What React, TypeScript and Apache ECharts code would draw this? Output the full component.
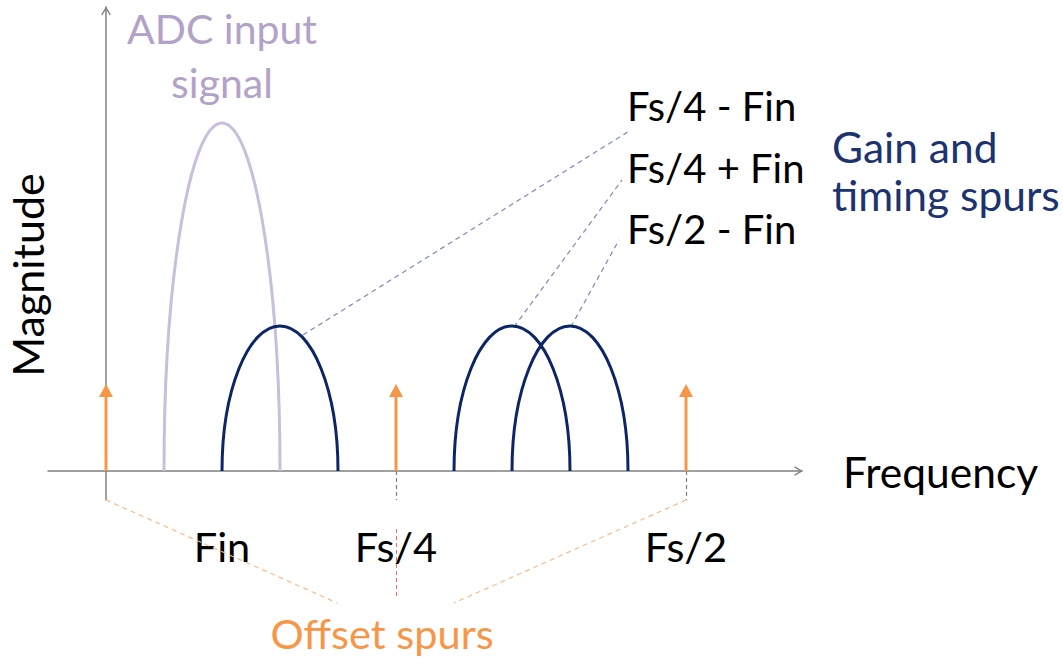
import React, { useEffect, useRef } from "react";
import * as echarts from "echarts";

// ---- data (units: frequency steps, magnitude steps) ----
const signalHumps = [[4, 2, 12]]; // [centre, half width, height]
const spurHumps = [
  [6, 2, 5],
  [14, 2, 5],
  [16, 2, 5],
];
const offsetSpurs = [
  [0, 3],
  [10, 3],
  [20, 3],
];
const tickValues = [4, 10, 20];
const tickLabels = ["Fin", "Fs/4", "Fs/2"];
const spurLabels = ["Fs/4 - Fin", "Fs/4 + Fin", "Fs/2 - Fin"];
const leaderLines = [
  [[6.79, 4.69], [18.1, 11.76]],
  [[14.07, 4.97], [17.79, 10.03]],
  [[16.03, 4.97], [17.69, 7.97]],
];
const offsetLeaders = [
  [[0, -1], [7.97, -4.55]],
  [[20, -1], [12, -4.55]],
];
const guideLines = [
  [[10, 0], [10, -1]],
  [[20, 0], [20, -1]],
];
const redGuide = [[[10, -2], [10, -4.4]]];

const FONT = "Lato, 'Open Sans', sans-serif";
const LAVENDER = "#C9BEDC";
const NAVY = "#0B2566";
const ORANGE = "#F79646";
const AXIS = "#808080";

function humpRender(color: string) {
  return (params: any, api: any) => {
    const c = api.value(0);
    const hw = api.value(1);
    const h = api.value(2);
    const pL = api.coord([c - hw, 0]);
    const pR = api.coord([c + hw, 0]);
    const pT = api.coord([c, h]);
    const rx = (pR[0] - pL[0]) / 2;
    const ry = pL[1] - pT[1];
    const k = 0.5523;
    const d =
      `M${pL[0]} ${pL[1]} C${pL[0]} ${pL[1] - k * ry} ${pT[0] - k * rx} ${pT[1]} ${pT[0]} ${pT[1]} ` +
      `C${pT[0] + k * rx} ${pT[1]} ${pR[0]} ${pR[1] - k * ry} ${pR[0]} ${pR[1]}`;
    return {
      type: "path",
      shape: { pathData: d },
      style: { fill: "none", stroke: color, lineWidth: 3 },
    };
  };
}

function arrowRender(params: any, api: any) {
  const x = api.value(0);
  const h = api.value(1);
  const p0 = api.coord([x, 0]);
  const p1 = api.coord([x, h]);
  const headLen = 13;
  const headHalf = 7;
  return {
    type: "group",
    children: [
      {
        type: "line",
        shape: { x1: p0[0], y1: p0[1], x2: p1[0], y2: p1[1] + headLen - 1 },
        style: { stroke: ORANGE, lineWidth: 3 },
      },
      {
        type: "polygon",
        shape: {
          points: [
            [p1[0], p1[1]],
            [p1[0] + headHalf, p1[1] + headLen],
            [p1[0] - headHalf, p1[1] + headLen],
          ],
        },
        style: { fill: ORANGE },
      },
    ],
  };
}

function txt(text: string, x: number, baseline: number, size: number, color: string, align: string) {
  return {
    type: "text",
    x,
    y: baseline - 0.36 * size,
    style: {
      text,
      fill: color,
      font: `${size}px ${FONT}`,
      fontFamily: FONT,
      fontSize: size,
      align,
      verticalAlign: "middle",
    },
  };
}

const chevron = "path://M50,0 L100,85 L90,95 L50,30 L10,95 L0,85 Z";

export default function App() {
  const ref = useRef<HTMLDivElement>(null);
  useEffect(() => {
    if (!ref.current) return;
    const chart = echarts.init(ref.current, undefined, { renderer: "svg" });
    const S = 42.5;
    const MAG = 43;
    chart.setOption({
      animation: false,
      backgroundColor: "#ffffff",
      grid: {
        left: 48,
        top: 7,
        width: 754,
        height: 493,
        containLabel: false,
        outerBoundsMode: "none",
      },
      xAxis: {
        type: "value",
        min: -2,
        max: 24,
        name: "Frequency",
        nameLocation: "end",
        nameGap: 41,
        nameTextStyle: { fontFamily: FONT, fontSize: S, color: "#000", verticalAlign: "middle", align: "left" },
        axisLine: {
          onZero: true,
          lineStyle: { color: AXIS, width: 1.5 },
          symbol: ["none", chevron],
          symbolSize: [10, 9],
          symbolOffset: [0, -3.5],
        },
        axisTick: { show: false },
        splitLine: { show: false },
        axisLabel: {
          customValues: tickValues,
          formatter: (v: number) => {
            const i = tickValues.indexOf(v);
            return i >= 0 ? tickLabels[i] : "";
          },
          fontFamily: FONT,
          fontSize: 41.5,
          color: "#000",
          margin: 46,
          verticalAlign: "middle",
        },
      },
      yAxis: {
        type: "value",
        min: -1,
        max: 16,
        axisLine: {
          onZero: true,
          lineStyle: { color: AXIS, width: 1.5 },
          symbol: ["none", chevron],
          symbolSize: [10, 9],
          symbolOffset: [0, -4],
        },
        axisTick: { show: false },
        splitLine: { show: false },
        axisLabel: { show: false },
      },
      series: [
        {
          type: "lines",
          coordinateSystem: "cartesian2d",
          clip: false,
          silent: true,
          data: offsetLeaders.map((c) => ({ coords: c })),
          lineStyle: { color: "#F9BC8E", width: 1.2, type: [5, 4], opacity: 1 },
        },
        {
          type: "lines",
          coordinateSystem: "cartesian2d",
          clip: false,
          silent: true,
          data: guideLines.map((c) => ({ coords: c })),
          lineStyle: { color: "#7F7F7F", width: 1.2, type: [4, 3], opacity: 1 },
        },
        {
          type: "lines",
          coordinateSystem: "cartesian2d",
          clip: false,
          silent: true,
          data: redGuide.map((c) => ({ coords: c })),
          lineStyle: { color: "#F46A6A", width: 1, type: [4, 3], opacity: 1 },
        },
        {
          type: "lines",
          coordinateSystem: "cartesian2d",
          clip: false,
          silent: true,
          data: leaderLines.map((c) => ({ coords: c })),
          lineStyle: { color: "#7C8BB6", width: 1.2, type: [5, 4], opacity: 1 },
        },
        {
          type: "custom",
          silent: true,
          clip: false,
          data: signalHumps,
          renderItem: humpRender(LAVENDER),
        },
        {
          type: "custom",
          silent: true,
          clip: false,
          data: spurHumps,
          renderItem: humpRender(NAVY),
        },
        {
          type: "custom",
          silent: true,
          clip: false,
          z: 5,
          data: offsetSpurs,
          renderItem: arrowRender,
        },
      ],
      graphic: [
        {
          type: "text",
          x: 43 - 0.36 * MAG,
          y: 275,
          rotation: Math.PI / 2,
          style: {
            text: "Magnitude",
            fill: "#000",
            font: `${MAG}px ${FONT}`,
            fontFamily: FONT,
            fontSize: MAG,
            align: "center",
            verticalAlign: "middle",
          },
        },
        txt("ADC input", 222, 43, 41, "#B3A2C7", "center"),
        txt("signal", 222, 97, 41, "#B3A2C7", "center"),
        txt(spurLabels[0], 627, 120, 40, "#000", "left"),
        txt(spurLabels[1], 627, 182, 40, "#000", "left"),
        txt(spurLabels[2], 627, 243, 40, "#000", "left"),
        txt("Gain and", 832, 162, S, "#1C3370", "left"),
        txt("timing spurs", 832, 210, S, "#1C3370", "left"),
        txt("Offset spurs", 382, 648, 41.5, "#F79646", "center"),
      ],
    });
    return () => chart.dispose();
  }, []);
  return (
    <div
      ref={ref}
      style={{ position: "absolute", left: 0, top: 0, width: 1063, height: 659 }}
    />
  );
}
